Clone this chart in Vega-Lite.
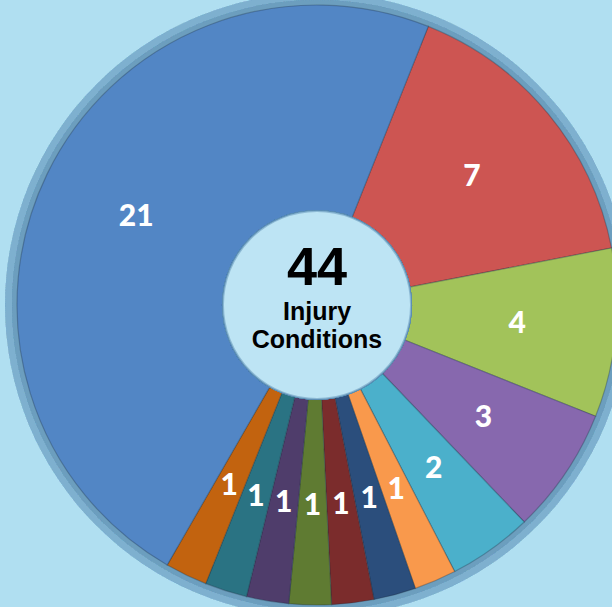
{
  "$schema": "https://vega.github.io/schema/vega-lite/v6.json",
  "width": 590,
  "height": 606,
  "padding": {"left": 22, "top": 2, "right": 0, "bottom": 0},
  "autosize": {"type": "none"},
  "background": "#B0DFF1",
  "config": {"view": {"stroke": null}},
  "data": {
    "values": [
      {"idx": 1, "cat": "Red", "count": 7},
      {"idx": 2, "cat": "Green", "count": 4},
      {"idx": 3, "cat": "Purple", "count": 3},
      {"idx": 4, "cat": "Cyan", "count": 2},
      {"idx": 5, "cat": "Orange", "count": 1},
      {"idx": 6, "cat": "Navy", "count": 1},
      {"idx": 7, "cat": "Dark red", "count": 1},
      {"idx": 8, "cat": "Olive", "count": 1},
      {"idx": 9, "cat": "Dark purple", "count": 1},
      {"idx": 10, "cat": "Teal", "count": 1},
      {"idx": 11, "cat": "Dark orange", "count": 1},
      {"idx": 12, "cat": "Blue", "count": 21}
    ]
  },
  "layer": [
    {
      "mark": {"type": "arc", "theta": 0, "theta2": 6.2832, "radius": 312, "radius2": 280, "fill": "#6A9FC0", "opacity": 0.08},
      "encoding": {}
    },
    {
      "mark": {"type": "arc", "theta": 0, "theta2": 6.2832, "radius": 305, "radius2": 280, "fill": "#6A9FC0", "opacity": 0.12},
      "encoding": {}
    },
    {
      "mark": {"type": "arc", "innerRadius": 93, "outerRadius": 300, "stroke": "#1a2a3a", "strokeOpacity": 0.3, "strokeWidth": 1.2},
      "encoding": {
        "theta": {"field": "count", "type": "quantitative", "stack": true, "scale": {"range": [0.38, 6.6632]}},
        "order": {"field": "idx", "type": "quantitative"},
        "color": {
          "field": "cat",
          "type": "nominal",
          "legend": null,
          "scale": {
            "domain": ["Red", "Green", "Purple", "Cyan", "Orange", "Navy", "Dark red", "Olive", "Dark purple", "Teal", "Dark orange", "Blue"],
            "range": ["#CD5552", "#A2C35A", "#8768AE", "#4BB0CB", "#F9994C", "#2B4E7C", "#7B2C2C", "#5F7B32", "#4F3D6B", "#2A7383", "#C2630F", "#5286C5"]
          }
        }
      }
    },
    {
      "mark": {"type": "arc", "theta": 0, "theta2": 6.2832, "radius": 94, "fill": "#BDE4F4", "stroke": "#5E8FB5", "strokeWidth": 2, "strokeOpacity": 0.5},
      "encoding": {}
    },
    {
      "mark": {"type": "text", "radius": 201, "font": "Lato", "fontWeight": 900, "fontSize": 30, "fill": "white", "align": "center", "baseline": "middle"},
      "encoding": {
        "theta": {"field": "count", "type": "quantitative", "stack": true},
        "order": {"field": "idx", "type": "quantitative"},
        "text": {"field": "count", "type": "quantitative"}
      }
    },
    {
      "data": {"values": [{"t": "44"}]},
      "mark": {"type": "text", "font": "Liberation Sans", "fontWeight": "bold", "fontSize": 54, "fill": "black", "align": "center", "baseline": "alphabetic", "dy": -20},
      "encoding": {"text": {"field": "t"}}
    },
    {
      "data": {"values": [{"t": "Injury"}]},
      "mark": {"type": "text", "font": "Liberation Sans", "fontWeight": "bold", "fontSize": 25, "fill": "black", "align": "center", "baseline": "alphabetic", "dy": 15},
      "encoding": {"text": {"field": "t"}}
    },
    {
      "data": {"values": [{"t": "Conditions"}]},
      "mark": {"type": "text", "font": "Liberation Sans", "fontWeight": "bold", "fontSize": 25, "fill": "black", "align": "center", "baseline": "alphabetic", "dy": 43},
      "encoding": {"text": {"field": "t"}}
    }
  ]
}
